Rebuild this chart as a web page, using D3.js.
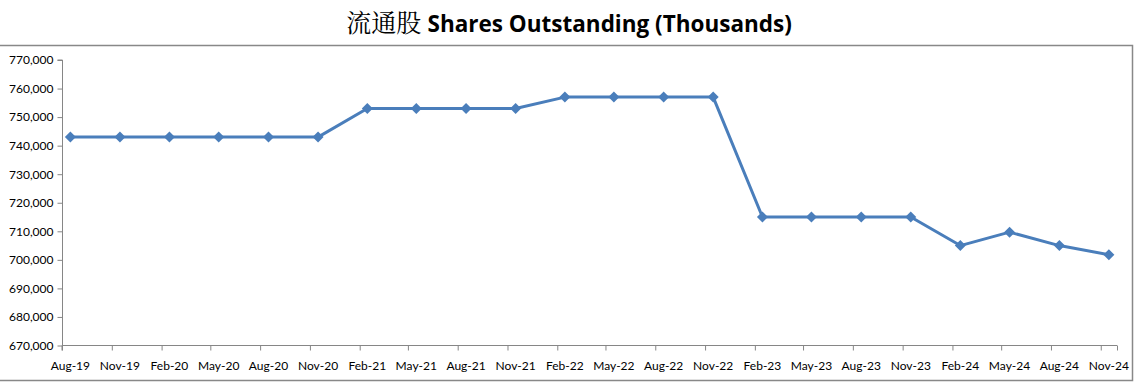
<!DOCTYPE html>
<html>
<head>
<meta charset="utf-8">
<script src="https://cdn.jsdelivr.net/npm/d3@7"></script>
<style>
  body { margin: 0; background: #fff; }
  svg text { font-family: Lato, "Open Sans", sans-serif; }
</style>
</head>
<body>
<div id="chart"></div>
<script>
const width = 1137;
const height = 387;

// quarter-end months, Aug-19 .. Nov-24
const labels = ['Aug-19', 'Nov-19', 'Feb-20', 'May-20', 'Aug-20', 'Nov-20',
  'Feb-21', 'May-21', 'Aug-21', 'Nov-21', 'Feb-22', 'May-22', 'Aug-22', 'Nov-22',
  'Feb-23', 'May-23', 'Aug-23', 'Nov-23', 'Feb-24', 'May-24', 'Aug-24', 'Nov-24'];
const shares = [743000, 743000, 743000, 743000, 743000, 743000,
  753000, 753000, 753000, 753000, 757000, 757000, 757000, 757000,
  715000, 715000, 715000, 715000, 705000, 709700, 705000, 701800];
const yTicks = [670000, 680000, 690000, 700000, 710000, 720000, 730000,
  740000, 750000, 760000, 770000];

const parse = d3.timeParse('%b-%y');
const months = labels.map(parse);
const data = months.map((m, i) => ({ month: m, value: shares[i], label: labels[i] }));

const svg = d3.select('#chart')
  .append('svg')
  .attr('width', width)
  .attr('height', height);

// outer frame (left side is clipped off in the original)
svg.append('path')
  .attr('d', `M0,45.5 H1132.5 V380.5 H0`)
  .attr('fill', 'none')
  .attr('stroke', '#888')
  .attr('stroke-width', 1.5);

// title
const title = svg.append('text')
  .attr('x', 569)
  .attr('y', 32)
  .attr('text-anchor', 'middle')
  .style('font-weight', 'bold')
  .attr('fill', '#000');
title.append('tspan')
  .style('font-family', '"Noto Serif CJK SC", "Noto Sans CJK SC", serif')
  .style('font-weight', 'normal')
  .style('font-size', '25px')
  .text('流通股 ');
title.append('tspan')
  .style('font-family', '"Open Sans", Lato, sans-serif')
  .style('font-size', '22.5px')
  .text('Shares Outstanding (Thousands)');

// date axis: one slot per month, points in the middle of their month
const xStart = months[0];
const xEnd = d3.timeMonth.offset(months[months.length - 1], 1);
const x = d3.scaleTime()
  .domain([xStart, xEnd])
  .range([62, 1117]);
const mid = (m) => (x(m) + x(d3.timeMonth.offset(m, 1))) / 2;

const y = d3.scaleLinear()
  .domain([670000, 770000])
  .range([345.5, 60]);

const axisColor = '#868686';

const yAxis = svg.append('g')
  .attr('transform', `translate(62.5,0)`)
  .call(d3.axisLeft(y)
    .tickValues(yTicks)
    .tickSize(5)
    .tickPadding(4)
    .tickFormat(d3.format(',')));
yAxis.select('.domain').attr('stroke', axisColor).attr('d', `M-5,${y(770000)}H0V${y(670000)}`);
yAxis.selectAll('.tick line').attr('stroke', axisColor);
yAxis.selectAll('.tick text').attr('fill', '#000').style('font-size', '12px');

const xAxis = svg.append('g')
  .attr('transform', `translate(0,${y(670000)})`)
  .call(d3.axisBottom(x)
    .tickValues(months.concat([xEnd]))
    .tickSize(5)
    .tickFormat(''));
xAxis.select('.domain').attr('stroke', axisColor).attr('d', `M62,5V0H1117`);
xAxis.selectAll('.tick line').attr('stroke', axisColor);

svg.append('g')
  .selectAll('text')
  .data(data)
  .join('text')
  .attr('x', d => mid(d.month))
  .attr('y', 370)
  .attr('text-anchor', 'middle')
  .style('font-size', '12px')
  .attr('fill', '#000')
  .text(d => d.label);

// series
const lineColor = '#4a7ebb';
svg.append('path')
  .datum(data)
  .attr('fill', 'none')
  .attr('stroke', lineColor)
  .attr('stroke-width', 3)
  .attr('stroke-linejoin', 'round')
  .attr('d', d3.line().x(d => mid(d.month)).y(d => y(d.value)));

svg.append('g')
  .selectAll('path')
  .data(data)
  .join('path')
  .attr('transform', d => `translate(${mid(d.month)},${y(d.value)})`)
  .attr('d', 'M0,-5.5L5.5,0L0,5.5L-5.5,0Z')
  .attr('fill', lineColor);
</script>
</body>
</html>
